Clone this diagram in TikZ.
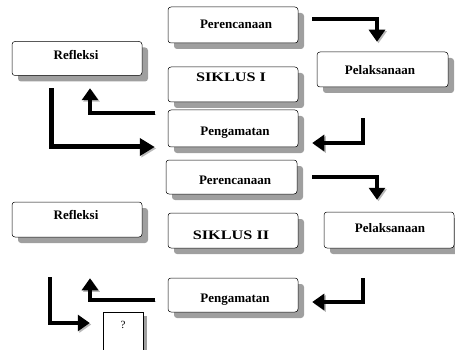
\documentclass[tikz,border=0pt]{standalone}
\usepackage{fontspec}
\setmainfont{Liberation Serif}
\usetikzlibrary{arrows.meta,calc,shadows}
\begin{document}
\begin{tikzpicture}[x=1pt,y=-1pt,
  box/.style={draw=black, line width=0.5pt, rounded corners=3pt, fill=white,
    minimum width=130pt, minimum height=35pt, inner sep=0pt,
    drop shadow={shadow xshift=6pt, shadow yshift=-6pt, fill=gray!75, opacity=1}},
  qbox/.style={draw=black, line width=0.5pt, fill=white,
    minimum width=40pt, minimum height=42pt, inner sep=0pt,
    drop shadow={shadow xshift=4pt, shadow yshift=-4pt, fill=gray!75, opacity=1}},
  lbl/.style={font=\bfseries\fontsize{13}{15}\selectfont, inner sep=0pt},
  ashadow/.style={preaction={draw=gray!55, transform canvas={shift={(1.5pt,-1.5pt)}}}},
  flow/.style={line width=3.2pt, -{Triangle[width=16pt,length=12pt]}, ashadow},
  flowthick/.style={line width=5pt, -{Triangle[width=17pt,length=15pt]}, ashadow}
]
\useasboundingbox (0,0) rectangle (455,350);

% Cycle I
\node[box, minimum height=36pt] (per1) at (233,25) {};
\node[lbl] (per1t) at (236,24) {Perencanaan};
\node[box] (s1) at (233,84.5) {};
\node[lbl] (s1t) at (231,77) {\scalebox{1.25}[1]{SIKLUS I}};
\node[box, minimum height=37pt] (pen1) at (233,128.5) {};
\node[lbl] (pen1t) at (235,133) {Pengamatan};
\node[box, minimum width=131pt] (pel1) at (382.5,69.5) {};
\node[lbl] (pel1t) at (380,70) {Pelaksanaan};
\node[box, minimum height=34pt] (ref1) at (77,58.5) {};
\node[lbl] (ref1t) at (76,55) {Refleksi};

% Cycle II
\node[box, minimum width=131pt, minimum height=34pt] (per2) at (231.5,177) {};
\node[lbl] (per2t) at (235,180) {Perencanaan};
\node[box] (s2) at (233,230.5) {};
\node[lbl] (s2t) at (231,235) {\scalebox{1.25}[1]{SIKLUS II}};
\node[box, minimum height=34pt] (pen2) at (233,295) {};
\node[lbl] (pen2t) at (235,300) {Pengamatan};
\node[box, minimum height=36pt] (pel2) at (389,230) {};
\node[lbl] (pel2t) at (390,228) {Pelaksanaan};
\node[box] (ref2) at (77,219.5) {};
\node[lbl] (ref2t) at (76,215) {Refleksi};
\node[qbox] (q) at (123,333) {};
\node[lbl, font=\fontsize{11}{13}\selectfont] (qt) at (123,325) {?};

% Arrows cycle I
\draw[flow] ($(per1.east)+(14,-6)$) -| ($(pel1.north)+(-5.5,-10)$);
\draw[flow] ($(pel1.south)+(-19.5,31)$) |- ($(pen1.east)+(14,14.5)$);
\draw[flow] ($(pen1.west)+(-13,-15.5)$) -| ($(ref1.south)+(13,12.5)$);
\draw[flowthick] ($(ref1.south)+(-26,12.5)$) |- ($(pen1.west)+(-13,18.5)$);

% Arrows cycle II
\draw[flow] ($(per2.east)+(15,0)$) -| ($(pel2.north)+(-12,-12)$);
\draw[flow] ($(pel2.south)+(-26,30)$) |- ($(pen2.east)+(14,7)$);
\draw[flow] ($(pen2.west)+(-13,5)$) -| ($(ref2.south)+(13,41)$);
\draw[flow] ($(ref2.south)+(-27,40)$) |- ($(q.west)+(-13,-10)$);
\end{tikzpicture}
\end{document}
